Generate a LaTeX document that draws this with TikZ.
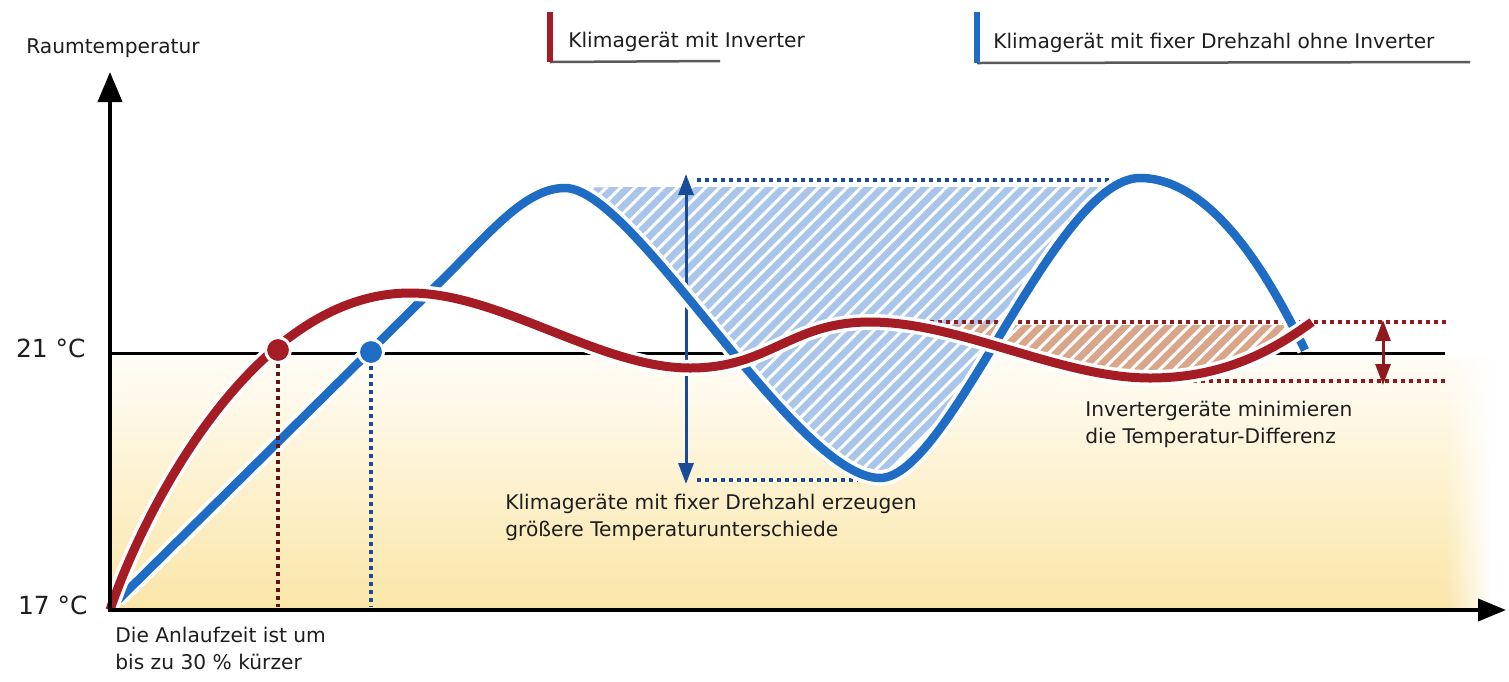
\documentclass[tikz,border=0pt]{standalone}
\usepackage{fontspec}
\setmainfont{DejaVu Sans}
\usetikzlibrary{arrows.meta,patterns.meta,fadings}
\definecolor{cred}{HTML}{A51C24}
\definecolor{cblue}{HTML}{1E6CC4}
\definecolor{dred}{HTML}{8E1B1F}
\definecolor{dblue}{HTML}{1A4A9A}
\definecolor{hblue}{HTML}{A9C6EA}
\definecolor{hred}{HTML}{D9A68A}
\definecolor{bgy}{HTML}{FBE6A8}
\definecolor{bgtop}{HTML}{FFFDF7}
\definecolor{legline}{HTML}{5A5A5A}
\definecolor{txt}{HTML}{1E1E1E}
\tikzfading[name=fadeR, left color=transparent!100, right color=transparent!0]
\def\bluepath{(118,600) -- (440,282) .. controls (490,233) and (525,188) .. (565,188) .. controls (635,188) and (795,478) .. (880,478) .. controls (950,478) and (1055,178) .. (1140,178) .. controls (1220,178) and (1280,300) .. (1305,350)}
\def\redpath{(110,610) .. controls (140,520) and (250,293) .. (410,293) .. controls (500,293) and (600,368) .. (690,368) .. controls (770,368) and (790,322) .. (870,322) .. controls (960,322) and (1060,378) .. (1150,378) .. controls (1230,378) and (1280,345) .. (1312,322)}
\begin{document}
\begin{tikzpicture}[x=0.02cm,y=-0.02cm,
  lbl/.style={font=\fontsize{11.5}{15.4}\selectfont, text=txt, inner sep=0pt, align=left},
  biglbl/.style={font=\fontsize{14.2}{17}\selectfont, text=txt, inner sep=0pt},
  axisline/.style={line width=0.08cm, black},
  curvebg/.style={white, line width=0.32cm},
  redcurve/.style={cred, line width=0.18cm},
  bluecurve/.style={cblue, line width=0.17cm},
  dotred/.style={dred, line width=0.08cm, dash pattern=on 0.08cm off 0.08cm},
  dotblue/.style={dblue, line width=0.08cm, dash pattern=on 0.08cm off 0.08cm},
  hatch/.style={pattern={Lines[angle=45,distance=0.2cm,line width=0.06cm]}, pattern color=white},
  dbl/.style={line width=0.06cm, {Triangle[length=0.42cm,width=0.3cm]}-{Triangle[length=0.42cm,width=0.3cm]}},
  dotnode/.style={circle, draw=white, line width=0.06cm, minimum size=0.5cm, inner sep=0pt}
]
\useasboundingbox (0,0) rectangle (1509,681);
\fill[white] (0,0) rectangle (1509,681);
% background gradient
\shade[top color=bgtop, bottom color=bgy] (112,355) rectangle (1490,608);
\fill[white, path fading=fadeR] (1445,350) rectangle (1492,609);
% 21 degree line
\coordinate (l21a) at (110,353);
\coordinate (l21b) at (1445,353);
\draw[line width=0.06cm, black] (l21a) -- (l21b);
% blue hatch
\begin{scope}
  \clip (0,187) rectangle (1509,681);
  \fill[hblue] (565,188) .. controls (635,188) and (795,478) .. (880,478) .. controls (950,478) and (1055,178) .. (1140,178) -- cycle;
  \fill[hatch] (565,188) .. controls (635,188) and (795,478) .. (880,478) .. controls (950,478) and (1055,178) .. (1140,178) -- cycle;
\end{scope}
% red hatch
\begin{scope}
  \clip (0,325) rectangle (1509,681);
  \fill[hred] (870,322) .. controls (960,322) and (1060,378) .. (1150,378) .. controls (1230,378) and (1280,345) .. (1312,322) -- cycle;
  \fill[hatch] (870,322) .. controls (960,322) and (1060,378) .. (1150,378) .. controls (1230,378) and (1280,345) .. (1312,322) -- cycle;
\end{scope}
% dotted reference lines
\coordinate (bt1) at (697,180); \coordinate (bt2) at (1125,180);
\coordinate (bb1) at (697,480); \coordinate (bb2) at (858,480);
\draw[dotblue] (bt1) -- (bt2);
\draw[dotblue] (bb1) -- (bb2);
\coordinate (rt1) at (930,322); \coordinate (rt2) at (1447,322);
\coordinate (rb1) at (1145,381); \coordinate (rb2) at (1447,381);
\draw[dotred] (rt1) -- (rt2);
\draw[dotred] (rb1) -- (rb2);
% double arrows
\coordinate (ba1) at (686,174); \coordinate (ba2) at (686,484);
\draw[dbl, dblue] (ba1) -- (ba2);
\coordinate (ra1) at (1383,320); \coordinate (ra2) at (1383,385);
\draw[dbl, dred] (ra1) -- (ra2);
% curves
\draw[curvebg] \bluepath;
\draw[bluecurve] \bluepath;
\draw[curvebg] \redpath;
\draw[redcurve] \redpath;
% start-up markers
\node[dotnode, fill=cred] (rdot) at (278,350) {};
\node[dotnode, fill=cblue] (bdot) at (371,352) {};
\coordinate (rfoot) at (278,607);
\coordinate (bfoot) at (371,607);
\draw[dotred, dred!70!black] (rdot.south) -- (rfoot);
\draw[dotblue] (bdot.south) -- (bfoot);
% axes
\coordinate (orig) at (110,610);
\coordinate (ytip) at (110,72);
\coordinate (xtip) at (1506,610);
\draw[axisline, -{Triangle[length=0.6cm,width=0.48cm]}] (orig) -- (ytip);
\draw[axisline, -{Triangle[length=0.56cm,width=0.44cm]}] ([xshift=-0.04cm]orig) -- (xtip);
% axis labels
\node[lbl, anchor=center] (ylab) at (113,48) {Raumtemperatur};
\node[biglbl, anchor=east] (t21) at (86,348) {21 °C};
\node[biglbl, anchor=east] (t17) at (88,605) {17 °C};
\node[lbl, anchor=north west] (anl) at (115,627) {Die Anlaufzeit ist um\\bis zu 30 \% kürzer};
\node[lbl, anchor=north west] (fix) at (505,494) {Klimageräte mit fixer Drehzahl erzeugen\\größere Temperaturunterschiede};
\node[lbl, anchor=north west] (inv) at (1085,401) {Invertergeräte minimieren\\die Temperatur-Differenz};
% legend
\coordinate (lr1) at (550,12); \coordinate (lr2) at (550,62);
\coordinate (lr3) at (720,61);
\draw[legline, line width=0.05cm] (lr2) -- (lr3);
\draw[cred, line width=0.12cm] (lr1) -- (lr2);
\node[lbl, anchor=west] (legr) at (568,42) {Klimagerät mit Inverter};
\coordinate (lb1) at (977,12); \coordinate (lb2) at (977,63);
\coordinate (lb3) at (1470,62);
\draw[legline, line width=0.05cm] (lb2) -- (lb3);
\draw[cblue, line width=0.12cm] (lb1) -- (lb2);
\node[lbl, anchor=west] (legb) at (993,43) {Klimagerät mit fixer Drehzahl ohne Inverter};
\end{tikzpicture}
\end{document}
